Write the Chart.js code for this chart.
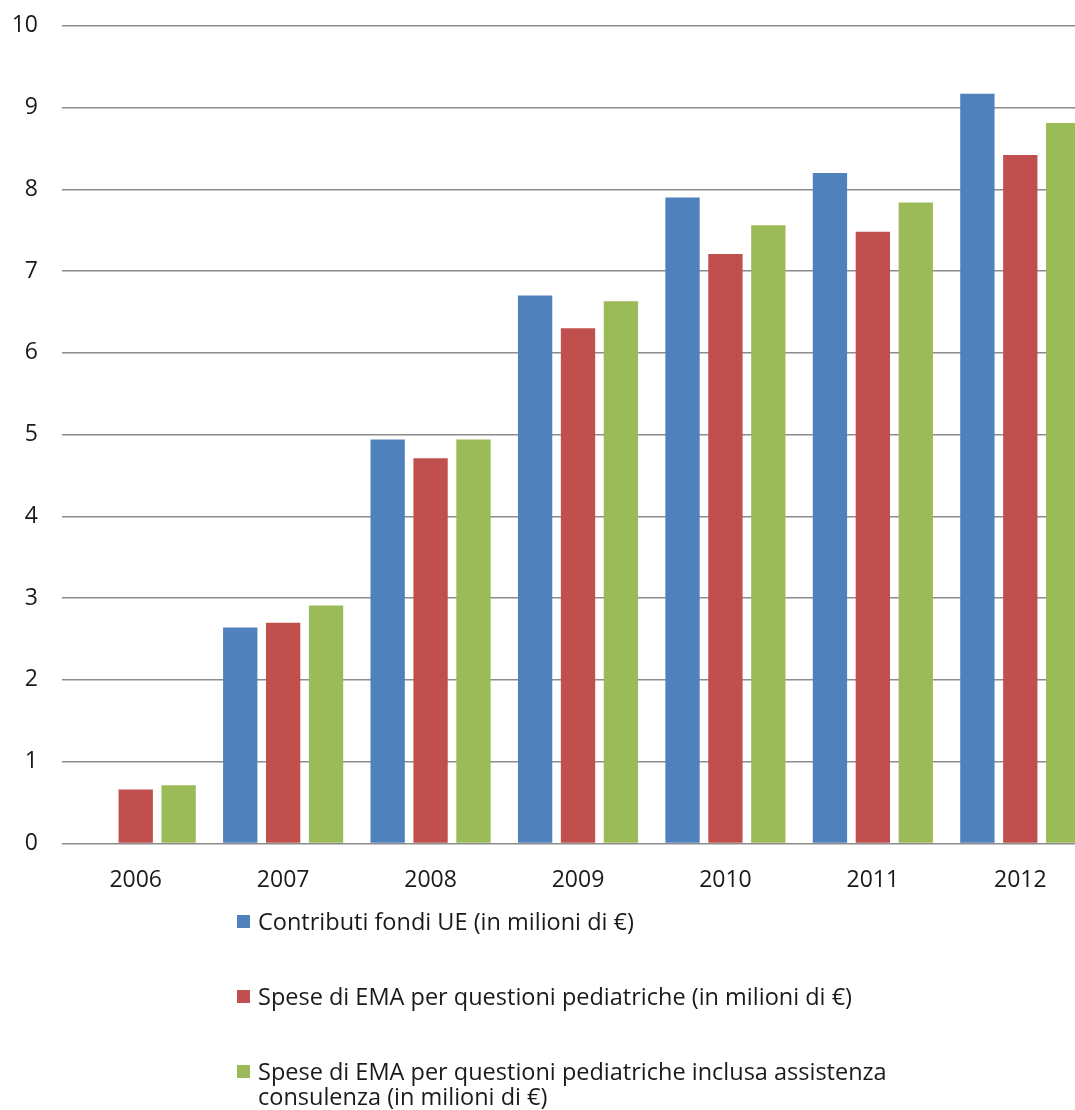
<!DOCTYPE html>
<html lang="it">
<head>
<meta charset="UTF-8">
<title>Contributi e spese EMA</title>
<script src="https://cdn.jsdelivr.net/npm/chart.js"></script>
<style>
  html, body { margin: 0; padding: 0; background: #fff; overflow: hidden; }
  body { width: 1075px; height: 1110px; position: relative; font-family: "Open Sans", sans-serif; }
  .grafico { position: absolute; left: 0; top: -12px; width: 1100px; height: 921px; }
  #legenda { position: absolute; left: 237px; top: 909px; color: #1a1a1a; font-size: 23.5px; }
  .voce { display: flex; align-items: flex-start; margin-bottom: 50px; }
  .quadrato { width: 13px; height: 13px; margin-top: 6px; margin-right: 8px; flex: none; }
  .testo { width: 640px; line-height: 25px; }
</style>
</head>
<body>
  <div class="grafico"><canvas id="myChart"></canvas></div>
  <div id="legenda"></div>

<script>
// valori (milioni di €)
const anni = ['2006', '2007', '2008', '2009', '2010', '2011', '2012'];
const contributiUE = [0, 2.64, 4.94, 6.70, 7.90, 8.20, 9.17];
const speseEMA = [0.66, 2.70, 4.71, 6.30, 7.21, 7.48, 8.42];
const speseConsulenza = [0.71, 2.91, 4.94, 6.63, 7.56, 7.84, 8.81];
const nomiSerie = [
  'Contributi fondi UE (in milioni di €)',
  'Spese di EMA per questioni pediatriche (in milioni di €)',
  'Spese di EMA per questioni pediatriche inclusa assistenza consulenza (in milioni di €)'
];
const colori = ['#4F81BD', '#C0504D', '#9BBB59'];
const tacche = [0, 1, 2, 3, 4, 5, 6, 7, 8, 9, 10];

const serie = [contributiUE, speseEMA, speseConsulenza];

const ctx = document.getElementById('myChart');
new Chart(ctx, {
  type: 'bar',
  data: {
    labels: anni,
    datasets: serie.map(function (valori, i) {
      return {
        label: nomiSerie[i],
        data: valori,
        backgroundColor: colori[i],
        borderWidth: 0,
        categoryPercentage: 0.873,
        barPercentage: 0.80
      };
    })
  },
  options: {
    responsive: true,
    maintainAspectRatio: false,
    animation: false,
    layout: { padding: { top: 0, right: 6, left: 0, bottom: 0 } },
    plugins: { legend: { display: false }, tooltip: { enabled: false } },
    scales: {
      x: {
        grid: { display: false },
        border: { display: false },
        ticks: { color: '#1a1a1a', font: { family: 'Open Sans', size: 23 }, padding: 15 }
      },
      y: {
        min: 0,
        max: 10,
        afterBuildTicks: function (scale) {
          scale.ticks = tacche.map(function (v) { return { value: v }; });
        },
        afterFit: function (scale) { scale.width = 62; },
        grid: { color: '#8c8c8c', lineWidth: 1.5, drawTicks: false },
        border: { display: false },
        ticks: { color: '#1a1a1a', font: { family: 'Open Sans', size: 23 }, padding: 24 }
      }
    }
  }
});

// legenda in verticale sotto il grafico
const legenda = document.getElementById('legenda');
nomiSerie.forEach(function (nome, i) {
  legenda.innerHTML += `<div class="voce"><span class="quadrato" style="background:${colori[i]}"></span><span class="testo">${nome}</span></div>`;
});
</script>
</body>
</html>
